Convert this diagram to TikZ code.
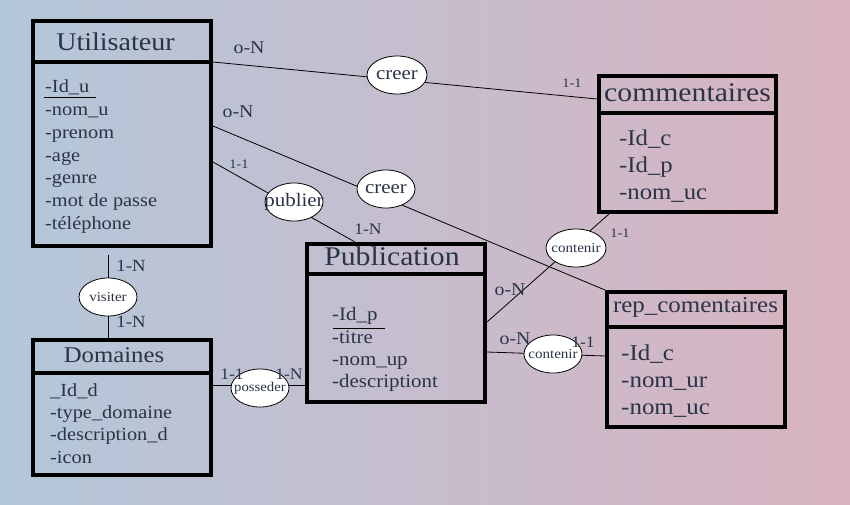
\documentclass[tikz,border=0pt]{standalone}
\usepackage{fontspec}
\setmainfont[FakeStretch=1.1]{Liberation Serif}
\usetikzlibrary{shapes.geometric}
\definecolor{bgL}{HTML}{B3C7DA}
\definecolor{bgR}{HTML}{D9B3C0}
\definecolor{txt}{HTML}{2B3447}
\newcommand{\zbox}[1]{\makebox[0pt][c]{#1}}
\tikzset{
  entity/.style={draw=black, line width=3.6pt, rectangle, inner sep=0pt, outer sep=0pt},
  hdr/.style={line width=3.6pt},
  title/.style={text=txt, anchor=base, inner sep=0pt, font=\fontsize{#1}{#1}\selectfont},
  attr/.style={text=txt, anchor=base west, inner sep=0pt, font=\fontsize{#1}{#1}\selectfont},
  card/.style={text=txt, inner sep=0pt, font=\fontsize{#1}{#1}\selectfont},
  rel/.style={ellipse, draw=black, fill=white, line width=0.8pt, minimum width=#1, minimum height=38pt, inner sep=0pt, text=txt},
  conn/.style={line width=0.8pt, draw=black},
}
\begin{document}
\begin{tikzpicture}[x=1pt,y=-1pt]
\shade[left color=bgL, right color=bgR] (0,0) rectangle (850,504);
\useasboundingbox (0,0) rectangle (850,504);

% entities
\node[entity, minimum width=178pt, minimum height=225pt] (util) at (122,133.5) {};
\node[entity, minimum width=177pt, minimum height=136pt] (comm) at (687.5,144) {};
\node[entity, minimum width=178pt, minimum height=158pt] (pub) at (396,323) {};
\node[entity, minimum width=178pt, minimum height=135pt] (rep) at (696,359.5) {};
\node[entity, minimum width=178pt, minimum height=135pt] (dom) at (122,407.5) {};

\draw[hdr] (util.west |- 0,62) -- (util.east |- 0,62);
\draw[hdr] (comm.west |- 0,113) -- (comm.east |- 0,113);
\draw[hdr] (pub.west |- 0,274) -- (pub.east |- 0,274);
\draw[hdr] (rep.west |- 0,327) -- (rep.east |- 0,327);
\draw[hdr] (dom.west |- 0,373) -- (dom.east |- 0,373);

% titles
\node[title=25.5] (tu) at (115.5,50) {Utilisateur};
\node[title=27] (tc) at (687.5,101) {commentaires};
\node[title=27] (tp) at (392,265) {Publication};
\node[title=22.7] (tr) at (695.5,312) {rep\_comentaires};
\node[title=22.5] (td) at (114,362) {Domaines};

% Utilisateur attributes
\node[attr=18.5] (u1) at (45,92) {-Id\_u};
\node[attr=18.5] (u2) at (45,115) {-nom\_u};
\node[attr=18.5] (u3) at (45,138) {-prenom};
\node[attr=18.5] (u4) at (45,161) {-age};
\node[attr=18.5] (u5) at (45,183) {-genre};
\node[attr=18.5] (u6) at (45,206) {-mot de passe};
\node[attr=18.5] (u7) at (45,229) {-téléphone};
\coordinate (ul1) at (44,97.5);
\coordinate (ul2) at (96,97.5);
\draw[line width=0.8pt] (ul1) -- (ul2);

% commentaires attributes
\node[attr=22.5] (c1) at (619,145) {-Id\_c};
\node[attr=22.5] (c2) at (619,172) {-Id\_p};
\node[attr=22.5] (c3) at (619,199) {-nom\_uc};

% Publication attributes
\node[attr=19] (p1) at (332,320) {-Id\_p};
\node[attr=19] (p2) at (332,343) {-titre};
\node[attr=19] (p3) at (332,365) {-nom\_up};
\node[attr=19] (p4) at (332,387) {-descriptiont};
\coordinate (pl1) at (333,328);
\coordinate (pl2) at (385,328);
\draw[line width=0.8pt] (pl1) -- (pl2);

% rep attributes
\node[attr=22.7] (r1) at (621,360) {-Id\_c};
\node[attr=22.7] (r2) at (621,387) {-nom\_ur};
\node[attr=22.7] (r3) at (621,414) {-nom\_uc};

% Domaines attributes
\node[attr=18.5] (d1) at (50,396) {\_Id\_d};
\node[attr=18.5] (d2) at (50,418) {-type\_domaine};
\node[attr=18.5] (d3) at (50,440) {-description\_d};
\node[attr=18.5] (d4) at (50,463) {-icon};

% connector end points
\coordinate (eu1) at (213,62);
\coordinate (ec1) at (597,99);
\coordinate (eu2) at (213,126);
\coordinate (er1) at (605,290);
\coordinate (eu3) at (213,162);
\coordinate (ep1) at (355,242);
\coordinate (ec2) at (609,214);
\coordinate (ep2) at (487,322);
\coordinate (ep3) at (487,352);
\coordinate (er2) at (605,356);
\coordinate (eu4) at (108,255);
\coordinate (ed1) at (108,338);
\coordinate (ed2) at (213,385);
\coordinate (ep4) at (305,385);

% connectors
\draw[conn] (eu1) -- (ec1);
\draw[conn] (eu2) -- (er1);
\draw[conn] (eu3) -- (ep1);
\draw[conn] (ec2) -- (ep2);
\draw[conn] (ep3) -- (er2);
\draw[conn] (eu4) -- (ed1);
\draw[conn] (ed2) -- (ep4);

% relations
\node[rel=60pt, font=\fontsize{19}{19}\selectfont] (creer1) at (397,75) {\zbox{creer}};
\node[rel=58pt, font=\fontsize{19}{19}\selectfont] (creer2) at (386,189) {\zbox{creer}};
\node[rel=58pt, font=\fontsize{19}{19}\selectfont] (publier) at (294,202) {\zbox{publier}};
\node[rel=60pt, font=\fontsize{13.7}{13.7}\selectfont] (cont1) at (576,248) {\zbox{contenir}};
\node[rel=58pt, font=\fontsize{13.7}{13.7}\selectfont] (cont2) at (553,354) {\zbox{contenir}};
\node[rel=58pt, font=\fontsize{13.6}{13.6}\selectfont] (visiter) at (108,297) {\zbox{visiter}};
\node[rel=58pt, font=\fontsize{13.4}{13.4}\selectfont] (posseder) at (260,388) {\zbox{posseder}};

% cardinalities
\node[card=18] (k1) at (249,48) {o-N};
\node[card=13] (k2) at (572,83) {1-1};
\node[card=18] (k3) at (238,112) {o-N};
\node[card=13] (k4) at (239,164) {1-1};
\node[card=16] (k5) at (368,229) {1-N};
\node[card=13] (k6) at (620,233) {1-1};
\node[card=18] (k7) at (510,290) {o-N};
\node[card=18] (k8) at (515,339) {o-N};
\node[card=16] (k9) at (583,342) {1-1};
\node[card=17] (k10) at (131,266) {1-N};
\node[card=17] (k11) at (131,322) {1-N};
\node[card=16] (k12) at (232,374) {1-1};
\node[card=16] (k13) at (289,374) {1-N};
\end{tikzpicture}
\end{document}
